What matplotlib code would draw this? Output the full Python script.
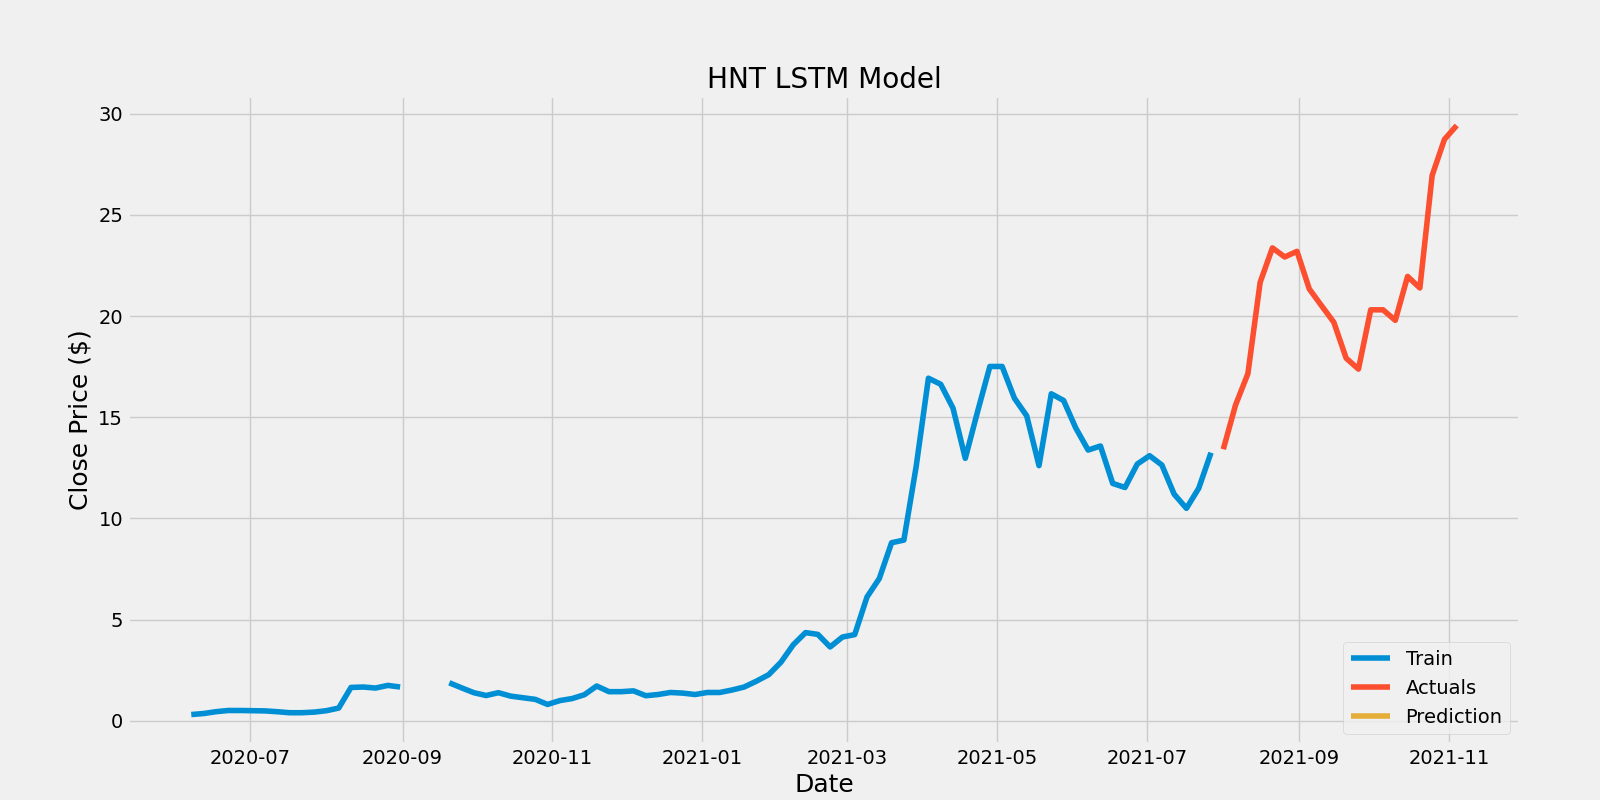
import numpy as np
import pandas as pd
import matplotlib
matplotlib.use("Agg")
import matplotlib.pyplot as plt

plt.style.use("fivethirtyeight")

train_start = "2020-06-07"
train_close = [
    0.31, 0.36, 0.45, 0.51, 0.51, 0.50, 0.49, 0.45, 0.40, 0.40, 0.43, 0.50,
    0.63, 1.65, 1.67, 1.62, 1.75, 1.67,
    np.nan, np.nan, np.nan,
    1.88, 1.63, 1.39, 1.25, 1.39, 1.22, 1.14, 1.06, 0.81, 1.00, 1.10, 1.29,
    1.72, 1.44, 1.44, 1.48, 1.24, 1.30, 1.40, 1.37, 1.30, 1.40, 1.40, 1.52,
    1.67, 1.96, 2.28, 2.90, 3.76, 4.36, 4.27,
    3.65, 4.14, 4.26, 6.12, 7.03, 8.80, 8.93, 12.56, 16.93, 16.63, 15.45,
    12.97, 15.28, 17.51, 17.51, 15.94, 15.07, 12.61, 16.16, 15.83, 14.46,
    13.38, 13.58, 11.73, 11.53, 12.69, 13.10, 12.64, 11.20, 10.50, 11.49, 13.25,
]
valid_start = "2021-08-01"
actual_close = [
    13.42, 15.61, 17.15, 21.67, 23.37, 22.92, 23.20, 21.34, 20.51, 19.69,
    17.92, 17.38, 20.31, 20.31, 19.79, 21.96, 21.39, 26.95, 28.73, 29.42,
]

train = pd.DataFrame({"Close": train_close},
                     index=pd.date_range(train_start, periods=len(train_close), freq="5D"))
valid = pd.DataFrame({"Close": actual_close},
                     index=pd.date_range(valid_start, periods=len(actual_close), freq="5D"))
valid["Predictions"] = np.nan

plt.figure(figsize=(16, 8))
plt.title("HNT LSTM Model")
plt.xlabel("Date", fontsize=18)
plt.ylabel("Close Price ($)", fontsize=18)
plt.plot(train["Close"])
plt.plot(valid["Close"])
plt.plot(valid["Predictions"])
plt.legend(["Train", "Actuals", "Prediction"], loc="lower right")
plt.savefig("out.png", dpi=100)
